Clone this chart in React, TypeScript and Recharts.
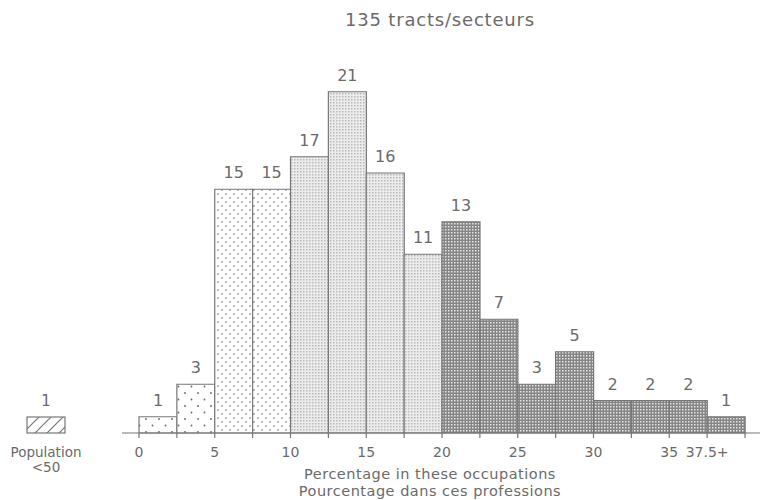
import React from 'react';
import { BarChart, Bar, XAxis, YAxis, Cell, LabelList } from 'recharts';

// histogram bins (lower bound of each 2.5-pt class) and tract counts
const binStarts = [0, 2.5, 5, 7.5, 10, 12.5, 15, 17.5, 20, 22.5, 25, 27.5, 30, 32.5, 35, 37.5];
const tractCounts = [1, 3, 15, 15, 17, 21, 16, 11, 13, 7, 3, 5, 2, 2, 2, 1];

const boundaryTicks = [0, 2.5, 5, 7.5, 10, 12.5, 15, 17.5, 20, 22.5, 25, 27.5, 30, 32.5, 35, 37.5, 40];
const boundaryLabels = ['0', '', '5', '', '10', '', '15', '', '20', '', '25', '', '30', '', '35', '37.5+', ''];

const smallPopCount = 1;
const smallPopLabel = ['Population', '<50'];

const chartTitle = '135 tracts/secteurs';
const axisTitle = ['Percentage in these occupations', 'Pourcentage dans ces professions'];

const data = binStarts.map((start, i) => ({ bin: String(start), start, count: tractCounts[i] }));

const INK = '#6a6a6a';
const FONT = 'DejaVu Sans, sans-serif';

const patternFor = (start: number) => {
  if (start < 5) return 'url(#dotsSparse)';
  if (start < 10) return 'url(#dotsMedium)';
  if (start < 20) return 'url(#fineLight)';
  return 'url(#crossDark)';
};

const AxisTitle = (props: any) => {
  const { viewBox } = props;
  const cx = viewBox.x + viewBox.width / 2 - 11;
  return (
    <g fill={INK} fontFamily={FONT} fontSize={14.5} textAnchor="middle" letterSpacing={0.5}>
      <text x={cx} y={viewBox.y + 46}>{axisTitle[0]}</text>
      <text x={cx} y={viewBox.y + 63}>{axisTitle[1]}</text>
    </g>
  );
};

export default function App() {
  return (
    <div style={{ position: 'relative', width: 760, height: 500, background: '#fff' }}>
      <style>{`body{margin:0}`}</style>
      <BarChart
        width={760}
        height={500}
        data={data}
        margin={{ top: 43, right: 0, bottom: 7, left: 122 }}
        barCategoryGap={0}
      >
        <defs>
          <pattern id="dotsSparse" patternUnits="userSpaceOnUse" width="13" height="13">
            <rect width="13" height="13" fill="#fff" />
            <circle cx="3" cy="3" r="0.9" fill="#666" />
            <circle cx="9.5" cy="9.5" r="0.9" fill="#666" />
          </pattern>
          <pattern id="dotsMedium" patternUnits="userSpaceOnUse" width="8" height="8">
            <rect width="8" height="8" fill="#fff" />
            <circle cx="2" cy="2" r="0.8" fill="#666" />
            <circle cx="6" cy="6" r="0.8" fill="#666" />
          </pattern>
          <pattern id="fineLight" patternUnits="userSpaceOnUse" width="3" height="3">
            <rect width="3" height="3" fill="#ececec" />
            <rect width="1.5" height="1.5" fill="#b8b8b8" />
          </pattern>
          <pattern id="crossDark" patternUnits="userSpaceOnUse" width="3" height="3">
            <rect width="3" height="3" fill="#868686" />
            <rect x="1" y="1" width="1.5" height="1.5" fill="#e4e4e4" />
          </pattern>
          <pattern id="hatch" patternUnits="userSpaceOnUse" width="12" height="12">
            <path d="M-3,3 L3,-3 M0,12 L12,0 M9,15 L15,9" stroke="#777" strokeWidth="1.2" />
          </pattern>
        </defs>
        <YAxis hide domain={[0, 24]} />
        <XAxis
          xAxisId="bins"
          dataKey="bin"
          type="category"
          orientation="top"
          hide
          padding={{ left: 17, right: 15 }}
        />
        <XAxis
          xAxisId="pct"
          dataKey="start"
          type="number"
          domain={[0, 40]}
          allowDataOverflow
          ticks={boundaryTicks}
          interval={0}
          height={60}
          padding={{ left: 17, right: 15 }}
          tickFormatter={(v: number) => boundaryLabels[boundaryTicks.indexOf(v)] ?? ''}
          tickSize={5}
          tickMargin={9}
          axisLine={{ stroke: '#777', strokeWidth: 1.2 }}
          tickLine={{ stroke: '#777', strokeWidth: 1.2 }}
          tick={{ fill: INK, fontSize: 14, fontFamily: FONT }}
          label={{ content: AxisTitle }}
        />
        <Bar
          dataKey="count"
          xAxisId="bins"
          stroke="#777"
          strokeWidth={1.2}
          isAnimationActive={false}
        >
          {data.map((d) => (
            <Cell key={d.bin} fill={patternFor(d.start)} />
          ))}
          <LabelList
            dataKey="count"
            position="top"
            offset={11}
            fill={INK}
            fontSize={16}
            fontFamily={FONT}
          />
        </Bar>
      </BarChart>
      <svg
        width={760}
        height={500}
        style={{ position: 'absolute', left: 0, top: 0, pointerEvents: 'none' }}
        fontFamily={FONT}
        fill={INK}
      >
        <text x={440} y={26} fontSize={18} textAnchor="middle" letterSpacing={0.8}>
          {chartTitle}
        </text>
        <text x={46} y={406} fontSize={15} textAnchor="middle">{smallPopCount}</text>
        <rect x={27} y={417} width={38} height={16} fill="url(#hatch)" stroke="#777" strokeWidth={1.2} />
        <text x={46} y={457} fontSize={13.5} textAnchor="middle">{smallPopLabel[0]}</text>
        <text x={46} y={472} fontSize={13.5} textAnchor="middle">{smallPopLabel[1]}</text>
      </svg>
    </div>
  );
}
